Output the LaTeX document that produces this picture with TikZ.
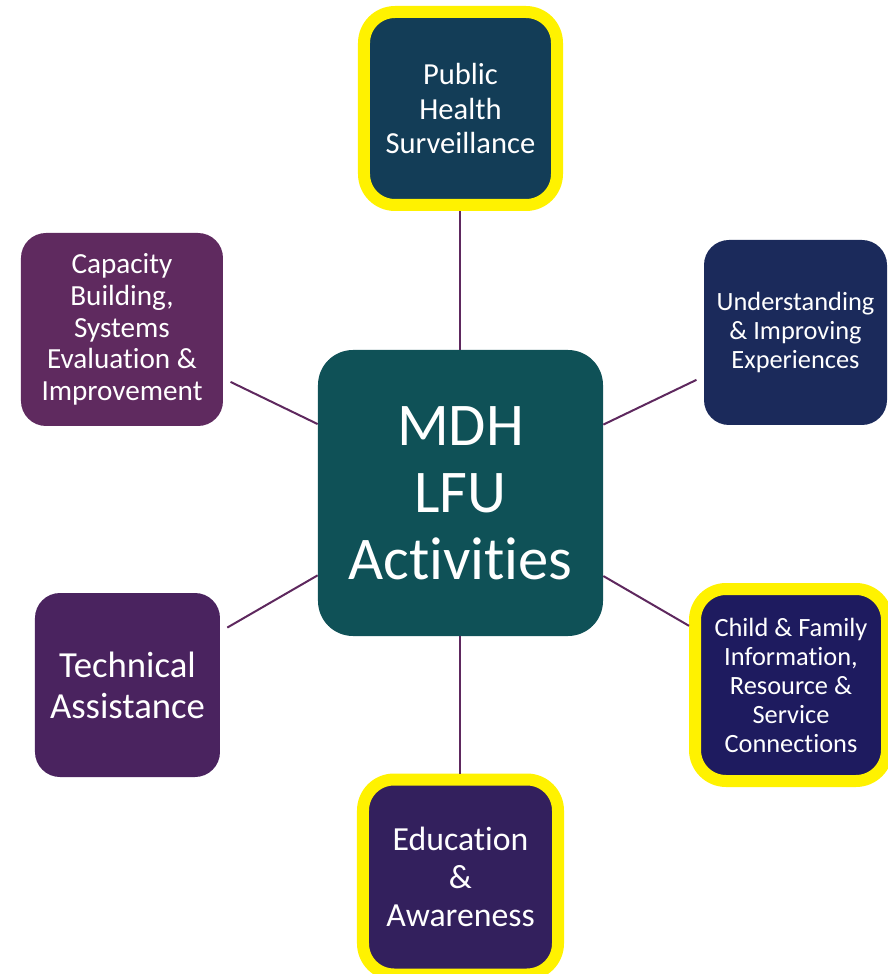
\documentclass[tikz,border=0pt]{standalone}
\usepackage{fontspec}
\setmainfont{Carlito}[Ligatures=NoCommon]
\usetikzlibrary{positioning}
\definecolor{lfuteal}{RGB}{15,81,87}
\definecolor{lfusteel}{RGB}{19,61,87}
\definecolor{lfunavy}{RGB}{27,42,91}
\definecolor{lfuindigo}{RGB}{30,27,95}
\definecolor{lfuviolet}{RGB}{51,32,93}
\definecolor{lfuplum}{RGB}{74,35,95}
\definecolor{lfugrape}{RGB}{95,42,95}
\definecolor{lfulink}{RGB}{94,40,94}
\tikzset{
  box/.style={rounded corners=0.5cm, text=white, align=center, inner sep=0pt,
    minimum width=3.7cm, minimum height=3.7cm},
  hibox/.style={box, draw=yellow, line width=0.24cm, rounded corners=0.62cm},
  link/.style={draw=lfulink, line width=0.04cm},
}

\begin{document}
\begin{tikzpicture}
  \useasboundingbox (-9.21,-9.62) rectangle (8.53,9.86);
  % hub
  \node[box, fill=lfuteal, rounded corners=0.7cm, minimum width=5.7cm, minimum height=5.72cm,
    font=\fontsize{34.5}{38}\selectfont] (hub) at (0,0) {MDH\\LFU\\Activities};
  % activity boxes
  \node[hibox, fill=lfusteel, minimum width=3.86cm, minimum height=3.86cm,
    font=\fontsize{17.4}{19.8}\selectfont] (phs) at (0,7.69) {Public\\Health\\Surveillance};
  \node[box, fill=lfunavy, minimum width=3.66cm,
    font=\fontsize{15}{16.7}\selectfont] (uie) at (6.70,3.21) {Understanding\\\& Improving\\Experiences};
  \node[hibox, fill=lfuindigo, minimum width=3.84cm, minimum height=3.84cm,
    font=\fontsize{15}{16.5}\selectfont] (cfi) at (6.61,-3.84)
    {Child \& Family\\Information,\\Resource \&\\Service\\Connections};
  \node[hibox, fill=lfuviolet, minimum width=3.9cm, minimum height=3.9cm,
    font=\fontsize{19.2}{21.5}\selectfont] (eda) at (0,-7.68) {Education\\\&\\Awareness};
  \node[box, fill=lfuplum, minimum height=3.68cm,
    font=\fontsize{20.9}{23.2}\selectfont] (tas) at (-6.66,-3.84) {Technical\\Assistance};
  \node[box, fill=lfugrape, minimum width=4.04cm, minimum height=3.86cm,
    font=\fontsize{16.6}{18.1}\selectfont] (cap) at (-6.77,3.27)
    {Capacity\\Building,\\Systems\\Evaluation \&\\Improvement};
  % links
  \draw[link] (hub) -- (phs);
  \draw[link] (hub) -- (eda);
  \draw[link] (hub) -- (cfi);
  \draw[link, shorten >=0.16cm] (hub) -- (uie);
  \draw[link, shorten >=0.16cm] (hub) -- (tas);
  \draw[link, shorten >=0.16cm] (hub) -- (cap);
\end{tikzpicture}
\end{document}
